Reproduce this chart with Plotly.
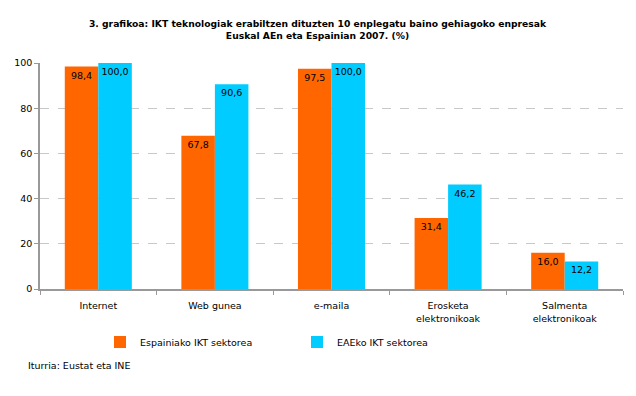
import plotly.graph_objects as go

categories = ["Internet", "Web gunea", "e-maila", "Erosketa<br>elektronikoak", "Salmenta<br>elektronikoak"]
spain = [98.4, 67.8, 97.5, 31.4, 16.0]
eae = [100.0, 90.6, 100.0, 46.2, 12.2]
series_names = ["Espainiako IKT sektorea", "EAEko IKT sektorea"]
colors = ["#FF6600", "#00CCFF"]
title_text = "3. grafikoa: IKT teknologiak erabiltzen dituzten 10 enplegatu baino gehiagoko enpresak<br>Euskal AEn eta Espainian 2007. (%)"
source_text = "Iturria: Eustat eta INE"

FONT = "DejaVu Sans"
W, H = 628, 388  # page body has an 8px margin

def fmt(v):
    return f"{v:.1f}".replace(".", ",")

fig = go.Figure()
for name, vals, col in zip(series_names, [spain, eae], colors):
    fig.add_trace(go.Bar(
        x=categories, y=vals, name=name, marker_color=col, marker_line_width=0,
        text=[fmt(v) for v in vals], textposition="inside", insidetextanchor="end",
        textfont=dict(family=FONT, size=9.5, color="black"), constraintext="none",
        textangle=0,
    ))

fig.update_layout(
    width=W, height=H,
    margin=dict(l=32, r=13, t=55, b=107, autoexpand=False),
    paper_bgcolor="white", plot_bgcolor="white",
    barmode="group", bargap=0.425, bargroupgap=0,
    font=dict(family=FONT, size=9.5, color="black"),
    title=dict(text="<b>" + title_text + "</b>", x=(317.5 - 40) / 583, xanchor="center", xref="paper",
               yref="container", y=1 - 19 / H, yanchor="middle",
               font=dict(family=FONT, size=9.2, color="black")),
    showlegend=True,
    legend=dict(orientation="h", x=(100 - 40) / 583, xanchor="left",
                yref="container", y=1 - 334 / H, yanchor="middle",
                entrywidth=152, entrywidthmode="pixels", itemwidth=30,
                font=dict(family=FONT, size=9.5), traceorder="normal"),
    annotations=[dict(text=source_text, xref="paper", yref="paper", x=(26 - 40) / 583,
                      y=(289 - 365) / 226, xanchor="left", yanchor="middle", showarrow=False,
                      font=dict(family=FONT, size=9.5))],
)
fig.update_yaxes(range=[0, 100], dtick=20, showgrid=True, gridcolor="#C8C8C8", griddash="dash",
                 showline=True, linecolor="#999999", linewidth=1.5, ticks="outside", ticklen=4,
                 tickcolor="#999999", zeroline=False, tickfont=dict(size=9.5))
fig.update_xaxes(showline=True, linecolor="#999999", linewidth=1.5, ticks="outside", ticklen=4,
                 tickcolor="#999999", tickson="boundaries", tickfont=dict(size=9.5),
                 ticklabelstandoff=7)

fig.write_html("out.html")
